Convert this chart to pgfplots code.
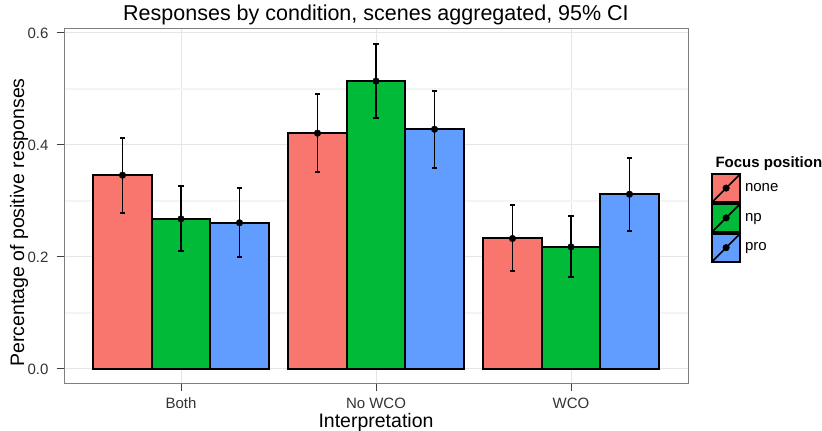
\documentclass[border=0pt]{standalone}
\usepackage{fontspec}
\setmainfont{Liberation Sans}
\usepackage{pgfplots}
\usepackage{pgfplotstable}
\pgfplotsset{compat=1.18}
\definecolor{cnone}{HTML}{F8766D}
\definecolor{cnp}{HTML}{00BA38}
\definecolor{cpro}{HTML}{619CFF}
\definecolor{grid90}{HTML}{E5E5E5}
\definecolor{grid98}{HTML}{F4F4F4}
\definecolor{grey50}{HTML}{7F7F7F}

% x = group index + dodge offset; y = mean; lo/hi = 95% CI bounds
\pgfplotstableread{
x     y      lo     hi
-0.3  0.346  0.279  0.4125
0.7   0.421  0.352  0.491
1.7   0.233  0.175  0.293
}\tnone
\pgfplotstableread{
x     y      lo     hi
0.0   0.268  0.210  0.327
1.0   0.514  0.448  0.580
2.0   0.218  0.164  0.273
}\tnp
\pgfplotstableread{
x     y      lo     hi
0.3   0.261  0.200  0.323
1.3   0.428  0.359  0.496
2.3   0.312  0.247  0.377
}\tpro

\begin{document}
\begin{tikzpicture}
\useasboundingbox (0,0) rectangle (822pt,431pt);
\begin{axis}[
  at={(64pt,47pt)}, anchor=south west,
  width=624pt, height=355pt, scale only axis,
  clip=false,
  xmin=-0.6, xmax=2.6, ymin=-0.0268, ymax=0.607,
  axis line style={grey50, line width=1pt},
  xtick={0,1,2}, xticklabels={Both,No WCO,WCO},
  ytick={0,0.2,0.4,0.6}, minor ytick={0.1,0.3,0.5},
  /pgf/number format/assume math mode=true,
  tick align=outside, tick pos=left,
  major tick length=7pt, minor tick length=0pt,
  tick style={black!75, line width=1pt},
  xmajorgrids, ymajorgrids, yminorgrids,
  major grid style={grid90, line width=1pt},
  minor grid style={grid98, line width=1.4pt},
  ticklabel style={font=\fontsize{15}{18}\selectfont, text=black!80},
  xticklabel style={anchor=base, yshift=-18pt},
  yticklabel style={xshift=-5pt, /pgf/number format/.cd, fixed, fixed zerofill, precision=1},
  label style={font=\fontsize{19.5}{23}\selectfont},
  xlabel={Interpretation},
  ylabel={Percentage of positive responses},
  xlabel style={at={(axis description cs:0.5,0)}, anchor=base, yshift=-44pt},
  ylabel style={at={(axis description cs:-0.0721,0.455)}, anchor=center},
  title={Responses by condition, scenes aggregated, 95\% CI},
  title style={font=\fontsize{21.5}{25}\selectfont, at={(axis description cs:0.5,1)}, anchor=base, yshift=2.5pt},
  legend style={at={(axis description cs:1.0369,0.5944)}, anchor=north west,
    draw=none, fill=none, row sep=0pt, column sep=4pt, inner sep=0pt,
    nodes={inner sep=0pt, anchor=west}, font=\fontsize{15}{18}\selectfont},
  legend cell align=left,
]
\addplot[ybar, bar width=0.3, bar shift=0pt, fill=cnone, draw=black, line width=2pt, forget plot] table[x=x,y=y] {\tnone};
\addplot[ybar, bar width=0.3, bar shift=0pt, fill=cnp, draw=black, line width=2pt, forget plot] table[x=x,y=y] {\tnp};
\addplot[ybar, bar width=0.3, bar shift=0pt, fill=cpro, draw=black, line width=2pt, forget plot] table[x=x,y=y] {\tpro};

\pgfplotsset{every errplot/.style={only marks, mark=*, mark size=3.3pt, black, forget plot,
   error bars/.cd, y dir=both, y explicit, error mark=|,
   error bar style={line width=1.8pt, black},
   error mark options={line width=1.8pt, mark size=2.6pt, black}}}
\addplot[every errplot] table[x=x, y=y, y error plus expr=\thisrow{hi}-\thisrow{y}, y error minus expr=\thisrow{y}-\thisrow{lo}] {\tnone};
\addplot[every errplot] table[x=x, y=y, y error plus expr=\thisrow{hi}-\thisrow{y}, y error minus expr=\thisrow{y}-\thisrow{lo}] {\tnp};
\addplot[every errplot] table[x=x, y=y, y error plus expr=\thisrow{hi}-\thisrow{y}, y error minus expr=\thisrow{y}-\thisrow{lo}] {\tpro};

\addlegendimage{legend image code/.code={\draw[fill=cnone, draw=black, line width=1.8pt] (0pt,-14pt) rectangle (28pt,14pt); \draw[line width=1.6pt] (0pt,-14pt)--(28pt,14pt); \fill[black] (14pt,0pt) circle (3.3pt);}}
\addlegendentry{none}
\addlegendimage{legend image code/.code={\draw[fill=cnp, draw=black, line width=1.8pt] (0pt,-14pt) rectangle (28pt,14pt); \draw[line width=1.6pt] (0pt,-14pt)--(28pt,14pt); \fill[black] (14pt,0pt) circle (3.3pt);}}
\addlegendentry{np}
\addlegendimage{legend image code/.code={\draw[fill=cpro, draw=black, line width=1.8pt] (0pt,-14pt) rectangle (28pt,14pt); \draw[line width=1.6pt] (0pt,-14pt)--(28pt,14pt); \fill[black] (14pt,0pt) circle (3.3pt);}}
\addlegendentry{pro}

\node[anchor=base west, font=\fontsize{15}{18}\selectfont\bfseries] at (axis description cs:1.0385,0.6104) {Focus position};
\end{axis}
\end{tikzpicture}
\end{document}
